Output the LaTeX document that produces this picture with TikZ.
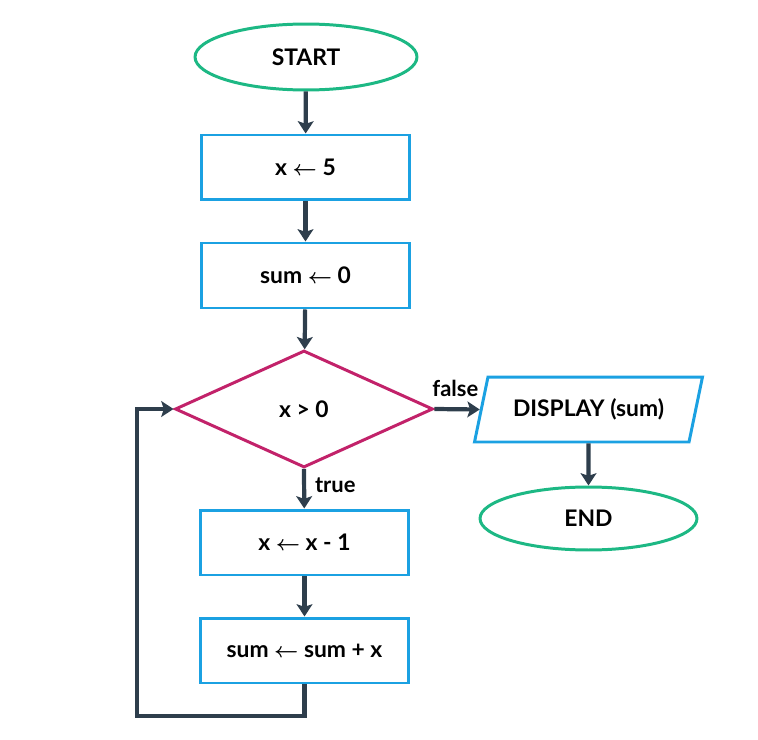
\documentclass[tikz,border=0pt]{standalone}
\usepackage{fontspec}
\setmainfont{Lato}
\usetikzlibrary{arrows.meta,positioning,shapes.geometric}
\definecolor{term}{HTML}{1DB884}
\definecolor{proc}{HTML}{1BA1E2}
\definecolor{dec}{HTML}{C2226A}
\definecolor{ln}{HTML}{2E3E4C}
\newcommand{\lar}{$\boldsymbol{\leftarrow}$}
\usepackage{amsmath,amssymb}
\tikzset{
  base/.style={line width=1.7pt,align=center,inner sep=0pt,font=\fontsize{13}{15}\selectfont\bfseries},
  term/.style={base,ellipse,draw=term},
  proc/.style={base,rectangle,draw=proc,minimum width=4.18cm,minimum height=1.3cm},
  dec/.style={base,diamond,draw=dec,minimum width=5.16cm,minimum height=2.34cm},
  io/.style={base,trapezium,trapezium left angle=58,trapezium right angle=122,trapezium stretches body,draw=proc,minimum width=4.56cm,minimum height=1.3cm},
  lbl/.style={font=\fontsize{12.5}{14}\selectfont\bfseries,inner sep=1pt},
  ar/.style={-{Stealth[length=7pt,width=9pt,inset=1.5pt]},line width=2.4pt,draw=ln},
}
\begin{document}
\begin{tikzpicture}[x=0.02cm,y=-0.02cm]
\useasboundingbox (0,0) rectangle (758,740);
\node[term,minimum width=4.44cm,minimum height=1.32cm] (start) at (306,57) {START};
\node[proc] (p1) at (305.5,167.5) {x \lar{} 5};
\node[proc] (p2) at (305.5,275.5) {sum \lar{} 0};
\node[dec] (cond) at (304,409) {x > 0};
\node[io] (disp) at (588.5,409.5) {DISPLAY (sum)};
\node[term,minimum width=4.34cm,minimum height=1.26cm] (stop) at (588.5,518.5) {END};
\node[proc] (p3) at (304.5,542.5) {x \lar{} x - 1};
\node[proc] (p4) at (304.5,650.5) {sum \lar{} sum + x};
\coordinate (back) at (137,716);
\draw[ar] (start) -- (p1);
\draw[ar] (p1) -- (p2);
\draw[ar] (p2) -- (cond);
\draw[ar] (cond.east) -- node[lbl,above=5pt,xshift=-1pt] {false} (disp.west);
\draw[ar] (disp) -- (stop);
\draw[ar] (cond.south) -- node[lbl,right=4pt,pos=0.4] {true} (p3);
\draw[ar] (p3) -- (p4);
\draw[ar] (p4.south) |- (back) |- (cond.west);
\end{tikzpicture}
\end{document}
